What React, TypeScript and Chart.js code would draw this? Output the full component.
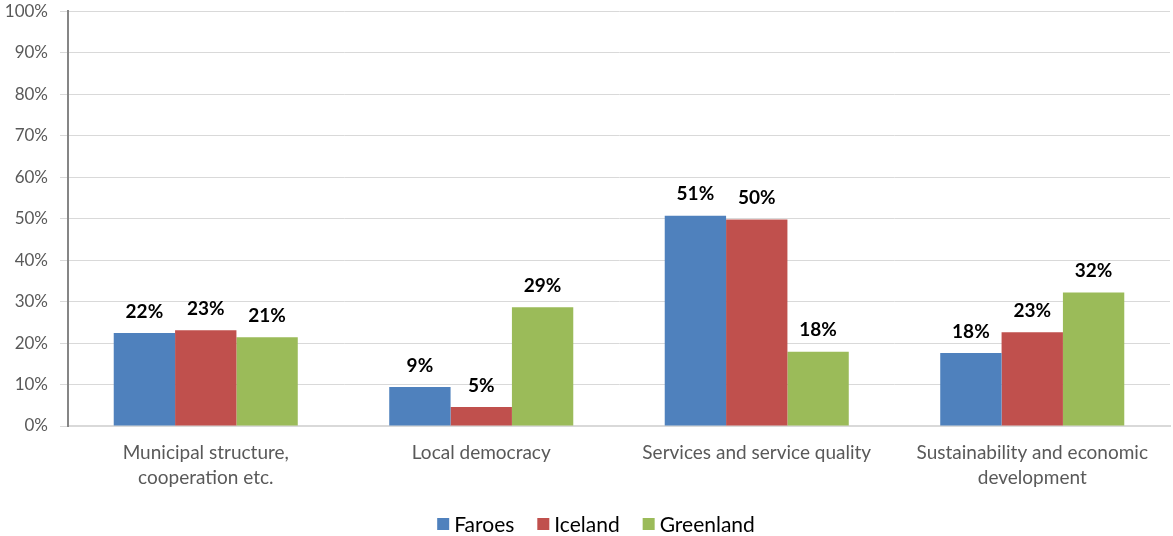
import React, { useEffect, useRef } from "react";
import { Chart, registerables } from "chart.js";

Chart.register(...registerables);

const categories: string[][] = [
  ["Municipal structure,", "cooperation etc."],
  ["Local democracy"],
  ["Services and service quality"],
  ["Sustainability and economic", "development"],
];
const seriesNames = ["Faroes", "Iceland", "Greenland"];
const faroes = [22.4, 9.4, 50.7, 17.6];
const iceland = [23.1, 4.6, 49.8, 22.6];
const greenland = [21.4, 28.6, 17.9, 32.2];
const colors = ["#4f81bd", "#c0504d", "#9bbb59"];
const yTicks = [0, 10, 20, 30, 40, 50, 60, 70, 80, 90, 100];

const FONT = "Lato, 'Open Sans', sans-serif";
const OFFSET = 11;

const labelPlugin = {
  id: "barLabels",
  afterDatasetsDraw(chart: any) {
    const ctx = chart.ctx;
    ctx.save();
    ctx.font = `bold 19px ${FONT}`;
    ctx.fillStyle = "#000000";
    ctx.textAlign = "center";
    ctx.textBaseline = "bottom";
    chart.data.datasets.forEach((ds: any, i: number) => {
      const meta = chart.getDatasetMeta(i);
      meta.data.forEach((bar: any, j: number) => {
        const v = ds.data[j];
        ctx.fillText(Math.round(v) + "%", bar.x, bar.y - 12);
      });
    });
    ctx.restore();
  },
};

const legendPlugin = {
  id: "customLegend",
  afterDraw(chart: any) {
    const ctx = chart.ctx;
    ctx.save();
    ctx.font = `21px ${FONT}`;
    ctx.textBaseline = "middle";
    ctx.textAlign = "left";
    const box = 12;
    const gap = 5;
    const spacing = 23;
    const items = chart.data.datasets.map((ds: any) => ({
      text: ds.label as string,
      color: ds.backgroundColor as string,
      w: ctx.measureText(ds.label).width,
    }));
    const total =
      items.reduce((a: number, it: any) => a + box + gap + it.w, 0) +
      spacing * (items.length - 1);
    let x = 596 - total / 2;
    const y = 524 + OFFSET;
    items.forEach((it: any) => {
      ctx.fillStyle = it.color;
      ctx.fillRect(x, y - box / 2, box, box);
      x += box + gap;
      ctx.fillStyle = "#000000";
      ctx.fillText(it.text, x, y + 1);
      x += it.w + spacing;
    });
    ctx.restore();
  },
};

export default function App() {
  const ref = useRef<HTMLCanvasElement>(null);
  useEffect(() => {
    document.body.style.margin = "0";
    const chart = new Chart(ref.current as HTMLCanvasElement, {
      type: "bar",
      data: {
        labels: categories as any,
        datasets: [faroes, iceland, greenland].map((d, i) => ({
          label: seriesNames[i],
          data: d,
          backgroundColor: colors[i],
          borderWidth: 0,
          barPercentage: 1,
          categoryPercentage: 0.668,
        })),
      },
      options: {
        animation: false,
        responsive: false,
        maintainAspectRatio: false,
        layout: { padding: { top: 0, right: 3, left: 0, bottom: 37 } },
        plugins: {
          tooltip: { enabled: false },
          legend: { display: false },
        },
        scales: {
          x: {
            grid: { display: false, drawTicks: false },
            border: { color: "#d9d9d9", width: 2 },
            ticks: {
              font: { family: FONT, size: 19, lineHeight: 1.3 },
              color: "#595959",
              padding: 15,
              maxRotation: 0,
              autoSkip: false,
            },
            afterFit: (s: any) => {
              s.height = 82;
            },
          },
          y: {
            min: 0,
            max: 100,
            afterBuildTicks: (s: any) => {
              s.ticks = yTicks.map((v) => ({ value: v }));
            },
            grid: {
              color: "#d9d9d9",
              drawTicks: true,
              tickLength: 8,
              tickColor: "#d9d9d9",
            },
            border: { color: "#868686", width: 2 },
            ticks: {
              font: { family: FONT, size: 17 },
              color: "#595959",
              padding: 12,
              callback: (v: any) => v + "%",
            },
            afterFit: (s: any) => {
              s.width = 68;
            },
          },
        },
      },
      plugins: [labelPlugin, legendPlugin],
    });
    return () => chart.destroy();
  }, []);
  return (
    <div style={{ width: 1173, height: 536, overflow: "hidden", position: "relative" }}>
      <canvas
        ref={ref}
        width={1173}
        height={556}
        style={{ display: "block", position: "absolute", left: 0, top: -OFFSET }}
      />
    </div>
  );
}
